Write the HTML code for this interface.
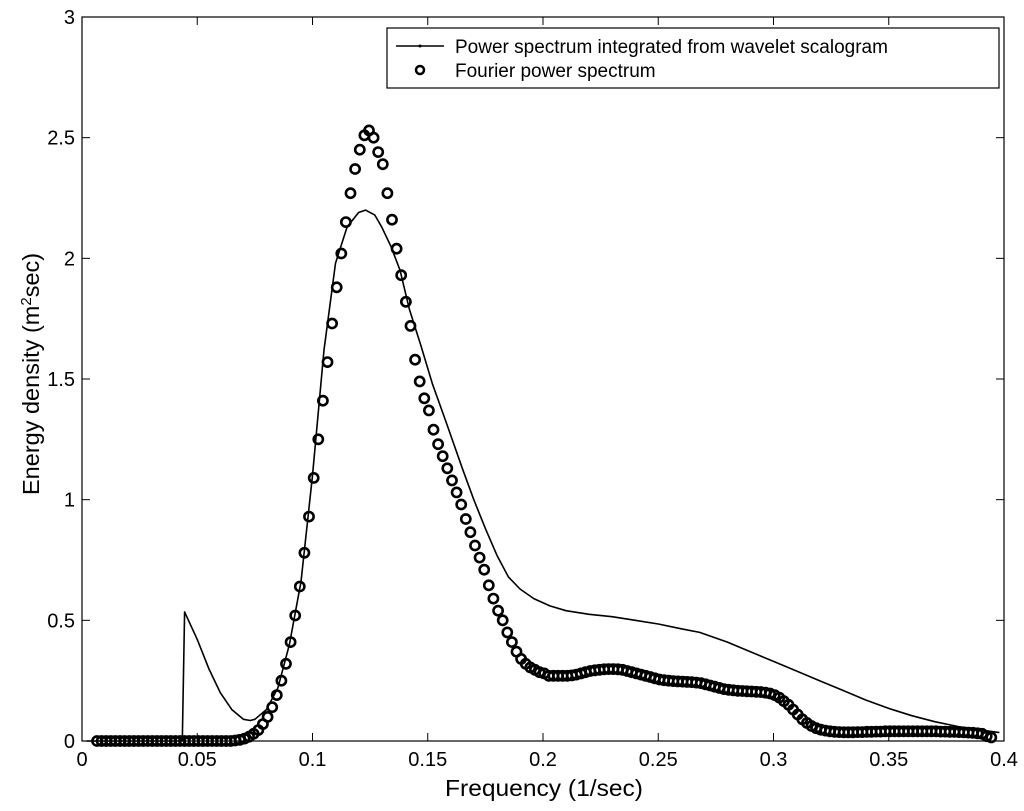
<!DOCTYPE html>
<html><head><meta charset="utf-8"><style>
html,body{margin:0;padding:0;background:#fff;}
svg{display:block;font-family:"Liberation Sans",Arial,sans-serif;}
</style></head><body>
<svg id="chart" width="1024" height="811" viewBox="0 0 1024 811">
<rect x="0" y="0" width="1024" height="811" fill="#fff"/>
<g id="plot"></g>
<g id="axes"></g>
<text x="445" y="796" font-size="23.5" textLength="198" lengthAdjust="spacingAndGlyphs">Frequency (1/sec)</text>
<text transform="translate(39,495) rotate(-90)" font-size="23.5">Energy density (m<tspan baseline-shift="super" font-size="15">2</tspan>sec)</text>
<g>
<rect x="387" y="28" width="612" height="60" fill="#fff" stroke="#000" stroke-width="1.2"/>
<g>
<line x1="396" y1="46" x2="444" y2="46" stroke="#000" stroke-width="1.5"/>
<circle cx="420" cy="46" r="1.5" fill="#000"/>
<text x="455" y="53" font-size="19">Power spectrum integrated from wavelet scalogram</text>
</g>
<g>
<circle cx="420" cy="70" r="4" fill="none" stroke="#000" stroke-width="2.5"/>
<text x="455" y="77" font-size="19">Fourier power spectrum</text>
</g>
</g>
</svg>
<script>
const xTicks=[0,0.05,0.1,0.15,0.2,0.25,0.3,0.35,0.4];
const xTickLabels=["0","0.05","0.1","0.15","0.2","0.25","0.3","0.35","0.4"];
const yTicks=[0,0.5,1,1.5,2,2.5,3];
const yTickLabels=["0","0.5","1","1.5","2","2.5","3"];
const fourierStart=0.0065;
const fourierStep=0.002;
const fourierValues=[0,0,0,0,0,0,0,0,0,0,0,0,0,0,0,0,0,0,0,0,0,0,0,0,0,0,0,0,0,0,
0.002,0.005,0.01,0.018,0.03,0.045,0.07,0.1,0.14,0.19,0.25,0.32,0.41,0.52,0.64,0.78,0.93,1.09,1.25,1.41,1.57,1.73,1.88,2.02,2.15,2.27,2.37,2.45,2.51,2.53,2.50,2.44,
2.39,2.27,2.16,2.04,1.93,1.82,1.72,1.58,1.49,1.42,1.37,1.29,1.23,1.18,1.13,1.08,1.03,0.98,0.92,0.865,0.81,0.76,0.71,0.645,0.59,0.54,0.50,0.45,0.41,0.37,0.34,0.32,0.305,0.295,0.285,0.28,
0.27,0.27,0.27,0.27,0.27,0.272,0.275,0.28,0.285,0.29,0.293,0.295,0.297,0.298,0.298,0.297,0.295,0.29,0.285,0.28,0.275,0.27,0.265,0.26,0.255,0.252,0.25,0.248,0.247,0.246,0.245,0.244,0.242,0.24,0.235,0.23,0.225,0.22,0.215,0.212,0.21,0.208,0.207,0.206,0.205,0.204,0.203,0.2,0.197,0.19,0.18,0.165,0.15,0.13,0.11,0.09,0.075,0.062,0.053,0.047,0.043,0.04,0.038,0.037,
0.036,0.036,0.036,0.037,0.037,0.038,0.038,0.039,0.039,0.04,0.04,0.04,0.04,0.04,0.04,0.04,0.04,0.04,0.04,0.04,0.04,0.039,0.039,0.038,0.038,0.037,0.036,0.035,0.034,0.032,0.03,0.02,0.015];
const waveletFreqs=[0.002,0.0435,0.0445,0.05,0.055,0.06,0.065,0.07,0.073,0.075,0.08,0.085,0.09,0.095,0.1,0.105,0.11,0.115,0.12,0.123,0.127,0.13,0.134,0.138,0.142,0.147,0.152,0.158,0.165,0.17,0.175,0.18,0.185,0.19,0.196,0.203,0.21,0.22,0.23,0.24,0.25,0.26,0.268,0.28,0.29,0.3,0.31,0.32,0.33,0.34,0.35,0.36,0.37,0.38,0.39,0.398];
const waveletValues=[0,0,0.535,0.42,0.3,0.2,0.13,0.09,0.085,0.09,0.13,0.22,0.4,0.66,1.1,1.62,1.98,2.13,2.19,2.2,2.18,2.13,2.05,1.95,1.79,1.64,1.48,1.32,1.13,1.0,0.88,0.77,0.68,0.63,0.59,0.56,0.54,0.525,0.515,0.5,0.485,0.465,0.45,0.41,0.37,0.33,0.29,0.25,0.21,0.17,0.135,0.105,0.08,0.06,0.045,0.035];

const X0=82,X1=1004,Y0=741,Y1=17;
const xs=v=>X0+(v-0)/(0.4-0)*(X1-X0);
const ys=v=>Y0-(v-0)/(3-0)*(Y0-Y1);
const NS="http://www.w3.org/2000/svg";
const plot=document.getElementById('plot');
const axes=document.getElementById('axes');
function mk(tag,attrs,parent){const e=document.createElementNS(NS,tag);for(const k in attrs)e.setAttribute(k,attrs[k]);parent.appendChild(e);return e;}

const box=mk('rect',{x:X0,y:Y1,width:X1-X0,height:Y0-Y1,fill:'none',stroke:'#000','stroke-width':1.2},axes);


xTicks.forEach((t,i)=>{
  const x=xs(t);
  const a=mk('line',{x1:x,y1:Y0,x2:x,y2:Y0-8,stroke:'#000','stroke-width':1},axes);
  
  
  const b=mk('line',{x1:x,y1:Y1,x2:x,y2:Y1+8,stroke:'#000','stroke-width':1},axes);
  
  
  const l=mk('text',{x:x,y:Y0+25,'font-size':20,'text-anchor':'middle'},axes);
  l.textContent=xTickLabels[i];
  
  
});
yTicks.forEach((t,i)=>{
  const y=ys(t);
  const a=mk('line',{x1:X0,y1:y,x2:X0+8,y2:y,stroke:'#000','stroke-width':1},axes);
  
  
  const b=mk('line',{x1:X1,y1:y,x2:X1-8,y2:y,stroke:'#000','stroke-width':1},axes);
  
  
  const l=mk('text',{x:X0-7,y:y+7,'font-size':20,'text-anchor':'end'},axes);
  l.textContent=yTickLabels[i];
  
  
});

const pts=waveletFreqs.map((f,i)=>xs(f).toFixed(1)+','+ys(waveletValues[i]).toFixed(1)).join(' ');
const line=mk('polyline',{points:pts,fill:'none',stroke:'#000','stroke-width':1.6,'stroke-linejoin':'round'},plot);



fourierValues.forEach((v,i)=>{
  const f=fourierStart+i*fourierStep;
  const c=mk('circle',{cx:xs(f).toFixed(1),cy:ys(v).toFixed(1),r:4.6,fill:'none',stroke:'#000','stroke-width':2.6},plot);
  
  
});
</script>
</body></html>
